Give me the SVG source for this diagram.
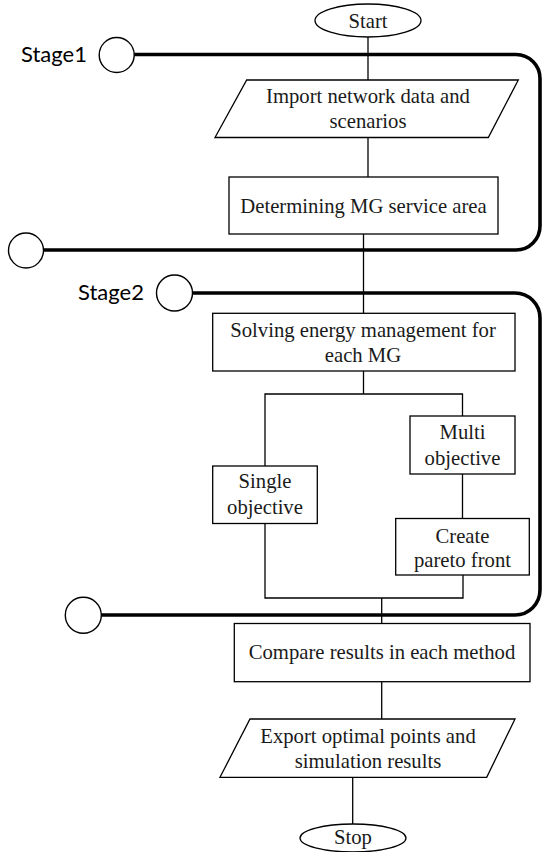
<svg xmlns="http://www.w3.org/2000/svg" width="542" height="852" viewBox="0 0 542 852">
<style>
.box{fill:#fff;stroke:#000;stroke-width:1.3}
.t{font-family:"Liberation Serif","Times New Roman",serif;font-size:20.7px;fill:#1a1a1a;text-anchor:middle}
.stage{font-family:Lato,"Liberation Sans",Arial,sans-serif;font-size:22px;fill:#000}
.thick{fill:none;stroke:#000;stroke-width:3.6}
.ring{fill:#fff;stroke:#000;stroke-width:1.4}
.c{fill:none;stroke:#000;stroke-width:1.3}
</style>
<rect width="542" height="852" fill="#fff"/>
<g id="stages">
<path class="thick" d="M134 54.5 H516 A24 24 0 0 1 540 78.5 V226 A24 24 0 0 1 516 250 H43"/>
<path class="thick" d="M192 293 H515 A25 25 0 0 1 540 318 V590 A25 25 0 0 1 515 615 H101"/>
</g>
<g id="connectors">
<path class="c" d="M368 37 V80"/>
<path class="c" d="M368 137.5 V177"/>
<path class="c" d="M363.5 234 V313.5"/>
<path class="c" d="M363.5 371 V394 M265 466 V394 H462.5 V416"/>
<path class="c" d="M462.5 474 V518.5"/>
<path class="c" d="M265 523.5 V598 H463 V575 M381.7 598 V623.5"/>
<path class="c" d="M381.7 681.7 V719"/>
<path class="c" d="M352.7 777.3 V824"/>
</g>
<g id="stage1">
<circle class="ring" cx="116.7" cy="55" r="17.5"/>
<text class="stage" x="21" y="62">Stage1</text>
</g>
<g id="stage1-end">
<circle class="ring" cx="26" cy="250.5" r="17.5"/>
</g>
<g id="stage2">
<circle class="ring" cx="174.5" cy="293" r="18"/>
<text class="stage" x="78" y="300">Stage2</text>
</g>
<g id="stage2-end">
<circle class="ring" cx="83.3" cy="615.3" r="18"/>
</g>
<g id="start">
<ellipse class="box" cx="368" cy="20.5" rx="53" ry="16.5"/>
<text class="t" x="368" y="28">Start</text>
</g>
<g id="import">
<polygon class="box" points="246.7,80 518.3,80 488.3,137.5 215,137.5"/>
<text class="t" x="368" y="103.3">Import network data and</text>
<text class="t" x="368" y="128.3">scenarios</text>
</g>
<g id="determine">
<rect class="box" x="229" y="177" width="269" height="57"/>
<text class="t" x="363.5" y="212.5">Determining MG service area</text>
</g>
<g id="solving">
<rect class="box" x="212.7" y="313.3" width="302.3" height="57.7"/>
<text class="t" x="363" y="336.7">Solving energy management for</text>
<text class="t" x="363" y="362.3">each MG</text>
</g>
<g id="single">
<rect class="box" x="212.7" y="466" width="104.6" height="57.5"/>
<text class="t" x="265" y="488.3">Single</text>
<text class="t" x="265" y="514.3">objective</text>
</g>
<g id="multi">
<rect class="box" x="410" y="416" width="105" height="58"/>
<text class="t" x="462.5" y="438.5">Multi</text>
<text class="t" x="462.5" y="465">objective</text>
</g>
<g id="pareto">
<rect class="box" x="395.7" y="518.5" width="133.6" height="56.5"/>
<text class="t" x="462.5" y="542.7">Create</text>
<text class="t" x="462.5" y="566.7">pareto front</text>
</g>
<g id="compare">
<rect class="box" x="234.3" y="623.5" width="295.7" height="58.2"/>
<text class="t" x="382" y="659.3">Compare results in each method</text>
</g>
<g id="export">
<polygon class="box" points="250,719 515,719 486.7,777.3 220,777.3"/>
<text class="t" x="368" y="743">Export optimal points and</text>
<text class="t" x="368" y="768.3">simulation results</text>
</g>
<g id="stop">
<ellipse class="box" cx="353" cy="838" rx="53" ry="14"/>
<text class="t" x="353" y="844">Stop</text>
</g>
</svg>
